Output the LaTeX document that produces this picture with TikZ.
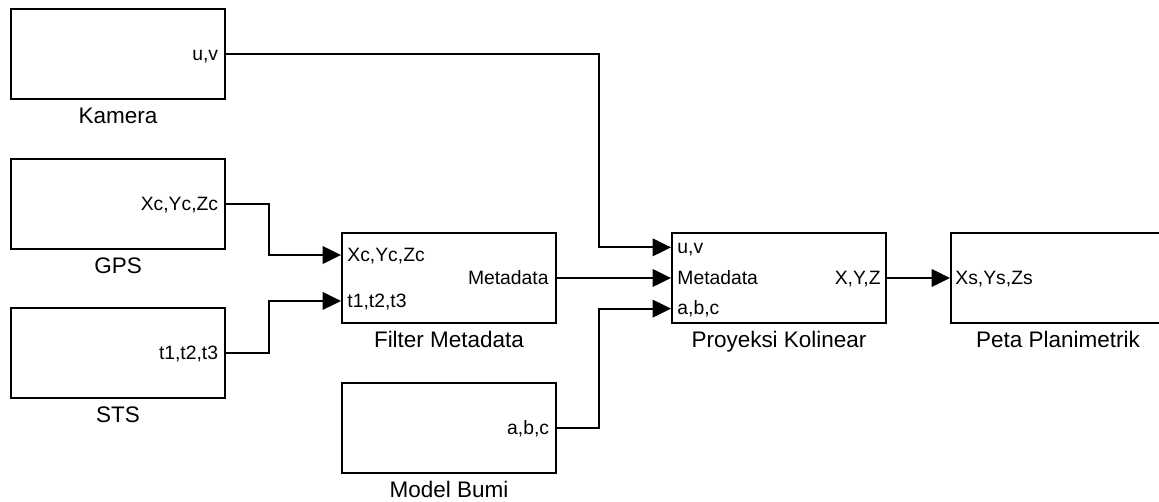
\documentclass[tikz,border=0pt]{standalone}
\usepackage{fontspec}
\setmainfont{Liberation Sans}
\usepackage{tikz}
\usetikzlibrary{arrows.meta, positioning, calc}

\begin{document}
\begin{tikzpicture}[
    x=0.02cm, y=-0.02cm,
    block/.style={draw, line width=1.1pt, minimum width=4.28cm, minimum height=1.8cm, inner sep=0pt},
    caption/.style={inner sep=0pt, text height=0.72em, text depth=0pt, font=\fontsize{12.8}{14}\selectfont},
    port/.style={inner sep=0pt, text height=0.72em, text depth=0pt, font=\fontsize{11}{13}\selectfont},
    wire/.style={line width=1.1pt},
    sig/.style={wire, -{Triangle[length=10.5pt, width=10pt]}}
]
    \path[use as bounding box, clip] (0,0) rectangle (1159,502);

    % blocks
    \node (kamera) [block] at (118,54) {};
    \node (gps) [block] at (118,204) {};
    \node (sts) [block] at (118,353) {};
    \node (filter) [block] at (449,278) {};
    \node (bumi) [block] at (449,428) {};
    \node (proyeksi) [block] at (779,278) {};
    \node (peta) [block] at (1058,278) {};

    % block names
    \node [caption, below=0.22cm of kamera] {Kamera};
    \node [caption, below=0.22cm of gps] {GPS};
    \node [caption, below=0.22cm of sts] {STS};
    \node [caption, below=0.22cm of filter] {Filter Metadata};
    \node [caption, below=0.22cm of bumi] {Model Bumi};
    \node [caption, below=0.22cm of proyeksi] {Proyeksi Kolinear};
    \node [caption, below=0.22cm of peta] {Peta Planimetrik};

    % input ports
    \coordinate (filter-in1) at ($(filter.north west)!0.25!(filter.south west)$);
    \coordinate (filter-in2) at ($(filter.north west)!0.75!(filter.south west)$);
    \coordinate (proyeksi-in1) at ($(proyeksi.north west)!0.1667!(proyeksi.south west)$);
    \coordinate (proyeksi-in2) at (proyeksi.west);
    \coordinate (proyeksi-in3) at ($(proyeksi.north west)!0.8333!(proyeksi.south west)$);

    % port names
    \node [port, left=0.15cm of kamera.east] {u,v};
    \node [port, left=0.15cm of gps.east] {Xc,Yc,Zc};
    \node [port, left=0.15cm of sts.east] {t1,t2,t3};
    \node [port, left=0.15cm of bumi.east] {a,b,c};
    \node [port, right=0.12cm of filter-in1] {Xc,Yc,Zc};
    \node [port, right=0.12cm of filter-in2] {t1,t2,t3};
    \node [port, left=0.16cm of filter.east] {Metadata};
    \node [port, right=0.12cm of proyeksi-in1] {u,v};
    \node [port, right=0.12cm of proyeksi-in2] {Metadata};
    \node [port, right=0.12cm of proyeksi-in3] {a,b,c};
    \node [port, left=0.12cm of proyeksi.east] {X,Y,Z};
    \node [port, right=0.1cm of peta.west] {Xs,Ys,Zs};

    % signals
    \draw [sig] (kamera.east) -- ++(373,0) |- (proyeksi-in1);
    \draw [sig] (gps.east) -- ++(43,0) |- (filter-in1);
    \draw [sig] (sts.east) -- ++(43,0) |- (filter-in2);
    \draw [sig] (filter.east) -- (proyeksi-in2);
    \draw [sig] (bumi.east) -- ++(42,0) |- (proyeksi-in3);
    \draw [sig] (proyeksi.east) -- (peta.west);
\end{tikzpicture}
\end{document}
